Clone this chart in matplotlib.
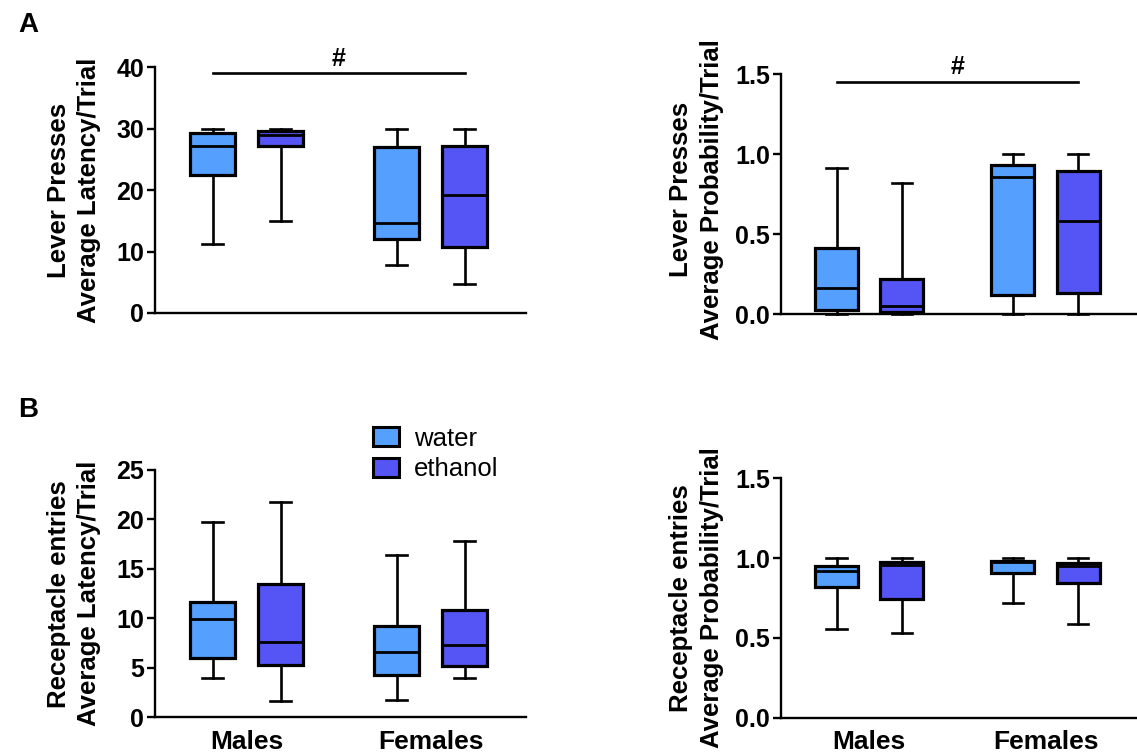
import matplotlib
matplotlib.use("Agg")
import matplotlib.pyplot as plt
from matplotlib.patches import Patch

plt.rcParams['font.family'] = ['Liberation Sans', 'DejaVu Sans']
plt.rcParams['font.weight'] = 'bold'

# Grupos y tratamientos
grupos = ['Males', 'Females']
tratamientos = ['water', 'ethanol']
colores = {'water': '#55a0ff', 'ethanol': '#5555f5'}

# Valores de cada caja: [min, Q1, mediana, Q3, max] en orden
# males-water, males-ethanol, females-water, females-ethanol
lp_latencia = [
    [11.2, 22.4, 27.2, 29.3, 30.0],
    [14.9, 27.2, 28.9, 29.6, 30.0],
    [7.8, 12.1, 14.7, 27.0, 30.0],
    [4.7, 10.7, 19.2, 27.2, 30.0],
]
lp_probabilidad = [
    [0.0, 0.027, 0.164, 0.416, 0.916],
    [0.0, 0.016, 0.052, 0.22, 0.823],
    [0.0, 0.12, 0.856, 0.933, 1.0],
    [0.0, 0.135, 0.583, 0.894, 1.0],
]
re_latencia = [
    [4.0, 5.96, 9.9, 11.66, 19.7],
    [1.65, 5.26, 7.65, 13.5, 21.8],
    [1.75, 4.28, 6.57, 9.23, 16.4],
    [3.97, 5.19, 7.31, 10.8, 17.86],
]
re_probabilidad = [
    [0.556, 0.817, 0.919, 0.953, 1.0],
    [0.531, 0.746, 0.957, 0.978, 1.0],
    [0.719, 0.905, 0.975, 0.98, 1.0],
    [0.585, 0.844, 0.949, 0.97, 1.0],
]

W, H = 1137, 755
fig = plt.figure(figsize=(W / 100, H / 100), dpi=100)


def caja(ax, datos, ymax, ticks, etiqueta, fmt, xlabels):
    pos = [0.85, 1.85, 3.55, 4.55]
    stats = []
    for d in datos:
        stats.append({'whislo': d[0], 'q1': d[1], 'med': d[2], 'q3': d[3], 'whishi': d[4]})
    res = ax.bxp(stats, positions=pos, widths=0.66, capwidths=0.31, patch_artist=True,
                 showfliers=False,
                 boxprops=dict(linewidth=2.3, edgecolor='black'),
                 medianprops=dict(color='black', linewidth=2.0),
                 whiskerprops=dict(color='black', linewidth=1.9),
                 capprops=dict(color='black', linewidth=1.9))
    for i, b in enumerate(res['boxes']):
        b.set_facecolor(colores[tratamientos[i % 2]])
    for art in res['whiskers'] + res['caps']:
        art.set_clip_on(False)
    ax.set_xlim(0, 5.45)
    ax.set_ylim(0, ymax)
    ax.set_yticks(ticks)
    ax.set_yticklabels([fmt.format(t) for t in ticks], fontsize=18, fontweight='bold')
    ax.spines['top'].set_visible(False)
    ax.spines['right'].set_visible(False)
    ax.spines['left'].set_linewidth(1.7)
    ax.spines['bottom'].set_linewidth(1.7)
    ax.tick_params(axis='y', length=6, width=1.7, pad=2)
    if xlabels:
        ax.set_xticks([1.35, 4.05])
        ax.set_xticklabels(grupos, fontsize=19, fontweight='bold')
        ax.tick_params(axis='x', length=0, pad=9)
    else:
        ax.set_xticks([])
    ax.set_ylabel(etiqueta, fontsize=18.5, fontweight='bold', linespacing=1.35)
    return pos


ax1 = fig.add_axes([155 / W, 1 - 313 / H, 371 / W, 246 / H])
p = caja(ax1, lp_latencia, 40, [0, 10, 20, 30, 40], 'Lever Presses\nAverage Latency/Trial', '{:.0f}', False)
ax1.yaxis.set_label_coords(-0.145, 0.5)
ax1.plot([p[0], p[3]], [39.1, 39.1], color='black', lw=1.9, clip_on=False)
ax1.text((p[0] + p[3]) / 2, 39.4, '#', ha='center', va='bottom', fontsize=18, fontweight='bold')

ax2 = fig.add_axes([781 / W, 1 - 314.3 / H, 356 / W, 240 / H])
p = caja(ax2, lp_probabilidad, 1.5, [0, 0.5, 1.0, 1.5], 'Lever Presses\nAverage Probability/Trial', '{:.1f}', False)
ax2.yaxis.set_label_coords(-0.16, 0.52)
ax2.plot([p[0], p[3]], [1.454, 1.454], color='black', lw=1.9, clip_on=False)
ax2.text((p[0] + p[3]) / 2, 1.472, '#', ha='center', va='bottom', fontsize=18, fontweight='bold')

ax3 = fig.add_axes([155 / W, 1 - 717.3 / H, 371 / W, 247.3 / H])
caja(ax3, re_latencia, 25, [0, 5, 10, 15, 20, 25], 'Receptacle entries\nAverage Latency/Trial', '{:.0f}', True)
ax3.yaxis.set_label_coords(-0.145, 0.5)

ax4 = fig.add_axes([781 / W, 1 - 717.7 / H, 356 / W, 239.4 / H])
caja(ax4, re_probabilidad, 1.5, [0, 0.5, 1.0, 1.5], 'Receptacle entries\nAverage Probability/Trial', '{:.1f}', True)
ax4.yaxis.set_label_coords(-0.16, 0.5)

# Leyenda
handles = [Patch(facecolor=colores[t], edgecolor='black', linewidth=2.2, label=t) for t in tratamientos]
fig.legend(handles=handles, loc='upper left', bbox_to_anchor=(360 / W, 1 - 414 / H),
           frameon=False, borderpad=0, handlelength=1.0, handleheight=0.75,
           handletextpad=0.6, labelspacing=0.25, prop={'size': 18.5, 'weight': 'normal'})

fig.text(28 / W, 1 - 25 / H, 'A', fontsize=20, fontweight='bold', va='center', ha='center')
fig.text(28 / W, 1 - 410 / H, 'B', fontsize=20, fontweight='bold', va='center', ha='center')

fig.savefig('out.png', dpi=100)
